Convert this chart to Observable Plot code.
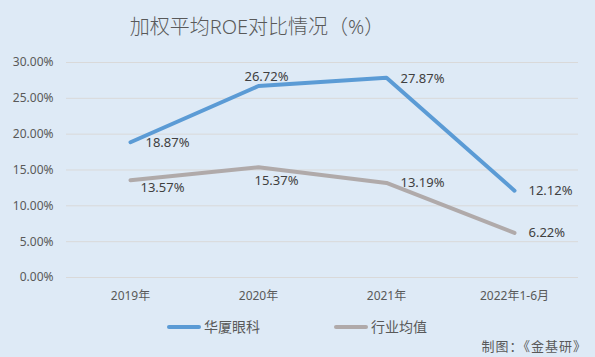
<!DOCTYPE html>
<html>
<head>
<meta charset="utf-8">
<script src="https://cdn.jsdelivr.net/npm/d3@7"></script>
<script src="https://cdn.jsdelivr.net/npm/@observablehq/plot@0.6"></script>
<style>
  html, body { margin: 0; padding: 0; }
  body { width: 595px; height: 357px; background: #deeaf6; overflow: hidden;
         font-family: "Noto Sans", "Noto Sans CJK SC", sans-serif; }
  #wrap { position: relative; width: 595px; height: 357px; }
  #title { position: absolute; left: 0; width: 514px; top: 10px; text-align: center;
           font-size: 20px; color: #595959; line-height: 34px; font-weight: 300; }
  #chart { position: absolute; left: 0; top: 50px; }
  .leg { position: absolute; top: 318px; font-size: 14px; color: #595959; line-height: 18px; display: flex; align-items: center; }
  .leg span.sw { display: inline-block; width: 34px; height: 4px; border-radius: 2px; margin-right: 3px; }
  #caption { position: absolute; right: 8px; top: 337px; font-size: 13px; color: #595959; line-height: 18px; letter-spacing: 1px; }
</style>
</head>
<body>
<div id="wrap">
  <div id="title">加权平均ROE对比情况（%）</div>
  <div id="chart"></div>
  <div class="leg" style="left:167px"><span class="sw" style="background:#5b9bd5"></span>华厦眼科</div>
  <div class="leg" style="left:334px"><span class="sw" style="background:#b0aaaa"></span>行业均值</div>
  <div id="caption">制图：《金基研》</div>
</div>
<script>
const categories = ["2019年", "2020年", "2021年", "2022年1-6月"];
const huaxia = [18.87, 26.72, 27.87, 12.12];
const industry = [13.57, 15.37, 13.19, 6.22];
const seriesNames = ["华厦眼科", "行业均值"];
const yTicks = [0, 5, 10, 15, 20, 25, 30];

const colors = {"华厦眼科": "#5b9bd5", "行业均值": "#b0aaaa"};
// label placement (pixel offsets relative to each point)
const labelOffsets = {
  "华厦眼科": [{dx: 15, dy: 1, a: "start"}, {dx: -14, dy: -9, a: "start"}, {dx: 14, dy: 1, a: "start"}, {dx: 14, dy: 0, a: "start"}],
  "行业均值": [{dx: 10, dy: 8, a: "start"}, {dx: -4, dy: 13, a: "start"}, {dx: 14, dy: 0, a: "start"}, {dx: 14, dy: 0, a: "start"}]
};

const rows = [];
[huaxia, industry].forEach((vals, si) => {
  vals.forEach((v, i) => rows.push({series: seriesNames[si], cat: categories[i], v, i}));
});

const labelMarks = [];
rows.forEach(r => {
  const o = labelOffsets[r.series][r.i];
  labelMarks.push(Plot.text([r], {x: "cat", y: "v", text: d => d.v.toFixed(2) + "%",
    dx: o.dx, dy: o.dy, textAnchor: o.a, fill: "#404040", fontSize: 13}));
});

const chart = Plot.plot({
  width: 595,
  height: 260,
  marginLeft: 66,
  marginRight: 17,
  marginTop: 12,
  marginBottom: 33,
  style: {background: "transparent", fontFamily: "'Noto Sans', 'Noto Sans CJK SC', sans-serif"},
  x: {type: "point", domain: categories, padding: 0.5, label: null},
  y: {domain: [0, 30], label: null},
  marks: [
    Plot.gridY(yTicks, {stroke: "#d9d9d9", strokeOpacity: 1, strokeWidth: 1}),
    Plot.axisY(yTicks, {tickSize: 0, tickPadding: 13, tickFormat: d => d.toFixed(2) + "%", fontSize: 12, fill: "#595959", label: null}),
    Plot.axisX({tickSize: 0, tickPadding: 14, fontSize: 12, fill: "#595959", label: null}),
    Plot.line(rows, {x: "cat", y: "v", z: "series", stroke: d => colors[d.series], strokeWidth: 4, strokeLinecap: "round", strokeLinejoin: "round"}),
    ...labelMarks
  ]
});
document.getElementById("chart").appendChild(chart);
</script>
</body>
</html>
